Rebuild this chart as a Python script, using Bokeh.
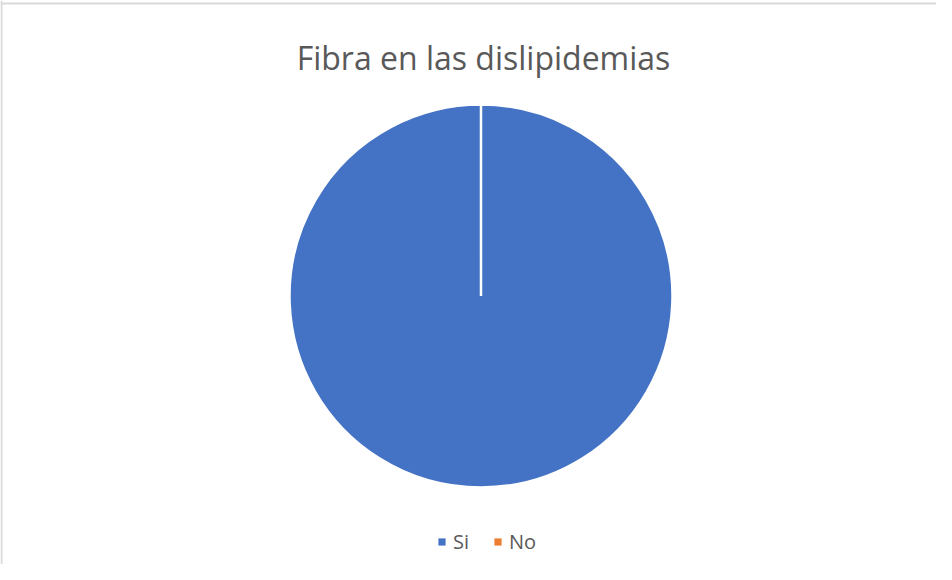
import math
from bokeh.plotting import figure
from bokeh.models import ColumnDataSource, Range1d, Label, Span, Legend, LegendItem
from bokeh.embed import file_html
from bokeh.resources import INLINE

# ---- data ----
categories = ["Si", "No"]
values = [100, 0]
colors = ["#4472C4", "#ED7D31"]
chart_title = "Fibra en las dislipidemias"

# ---- layout constants (page pixels; data y = 580 - page y) ----
W, H = 936, 564
CX, CY, R = 488.5, 580 - 303.5, 191.5

total = sum(values)
starts, ends, radii = [], [], []
cum = 0.0
for v in values:
    a0 = math.pi / 2 - 2 * math.pi * cum / total
    cum += v
    a1 = math.pi / 2 - 2 * math.pi * cum / total
    if abs(a0 - a1) >= 2 * math.pi - 1e-9:
        a1 = a0 - (2 * math.pi - 1e-4)   # full slice: renderer needs a non-closed arc
    starts.append(a0)
    ends.append(a1)
    radii.append(R if v > 0 else 0)

src = ColumnDataSource(dict(cat=categories, val=values, start=starts, end=ends,
                            color=colors, rad=radii))

p = figure(width=W, height=H, x_range=Range1d(8, 8 + W), y_range=Range1d(580 - 8 - H, 580 - 8),
           x_axis_type=None, y_axis_type=None, toolbar_location=None, output_backend="svg",
           min_border=0, outline_line_color=None)
p.grid.visible = False
p.background_fill_color = "white"
p.border_fill_color = "white"

r_fill = p.wedge(x=CX, y=CY, radius="rad", start_angle="start", end_angle="end", direction="clock",
                 fill_color="color", line_color=None, source=src)
p.wedge(x=CX, y=CY, radius="rad", start_angle="start", end_angle="end", direction="clock",
        fill_color=None, line_color="white", line_width=2.5, source=src)

legend = Legend(items=[LegendItem(label=c, renderers=[r_fill], index=i) for i, c in enumerate(categories)],
                orientation="horizontal", location=(437, 9),
                glyph_width=9, glyph_height=9, label_standoff=7, spacing=20,
                label_text_font="Open Sans", label_text_font_size="20px",
                label_text_color="#595959", border_line_color=None,
                background_fill_alpha=0, padding=0, margin=0)
p.add_layout(legend, "center")

p.add_layout(Label(x=491, y=580 - 65, text=chart_title, text_align="center",
                   text_baseline="alphabetic", text_font="Open Sans", text_font_size="32px",
                   text_color="#595959"))

p.add_layout(Span(location=9, dimension="height", line_color="#D9D9D9", line_width=2))
p.add_layout(Span(location=580 - 11, dimension="width", line_color="#D9D9D9", line_width=2))

open("out.html", "w").write(file_html(p, INLINE))
